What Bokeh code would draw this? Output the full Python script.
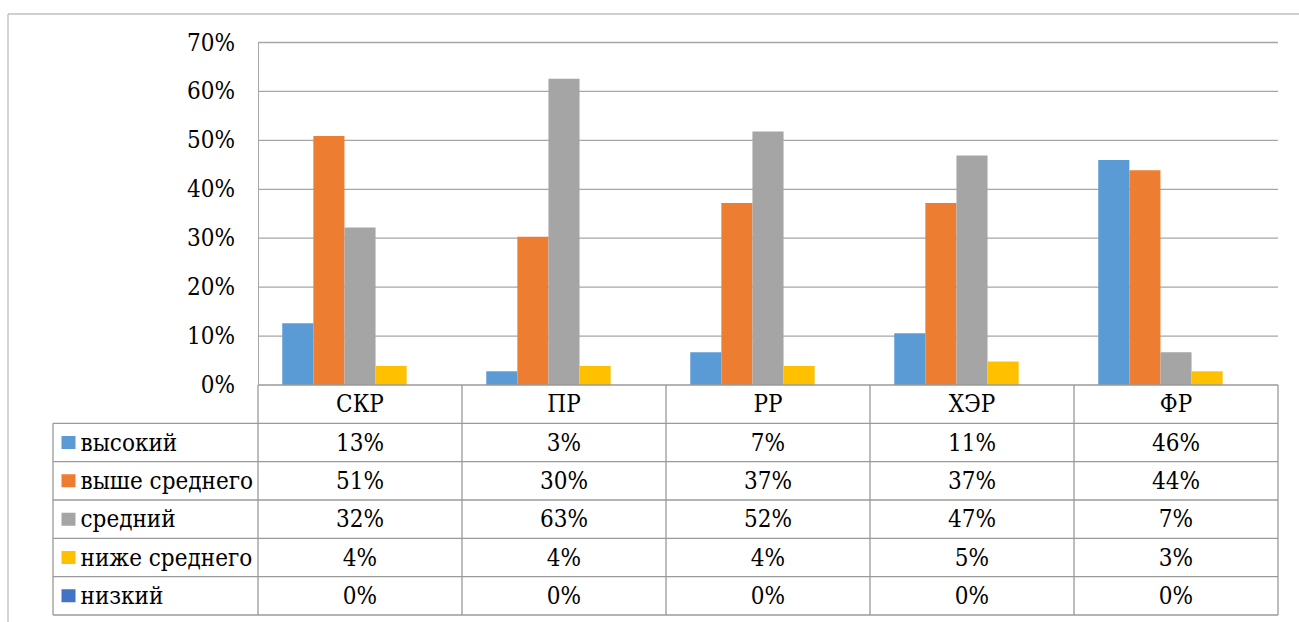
from bokeh.plotting import figure
from bokeh.models import ColumnDataSource, Range1d, FixedTicker, NumeralTickFormatter
from bokeh.transform import dodge
from bokeh.core.properties import value
from bokeh.embed import file_html
from bokeh.resources import INLINE

# ---------------- data ----------------
CATEGORIES = ["СКР", "ПР", "РР", "ХЭР", "ФР"]
SERIES = ["высокий", "выше среднего", "средний", "ниже среднего", "низкий"]
VYSOKIY = [0.126, 0.028, 0.067, 0.106, 0.460]
VYSHE_SREDNEGO = [0.509, 0.303, 0.372, 0.372, 0.439]
SREDNIY = [0.322, 0.626, 0.518, 0.469, 0.067]
NIZHE_SREDNEGO = [0.039, 0.039, 0.039, 0.048, 0.028]
NIZKIY = [0.0, 0.0, 0.0, 0.0, 0.0]
Y_TICKS = [0.0, 0.1, 0.2, 0.3, 0.4, 0.5, 0.6, 0.7]
COLORS = ["#5B9BD5", "#ED7D31", "#A5A5A5", "#FFC000", "#4472C4"]

SERIES_VALUES = [VYSOKIY, VYSHE_SREDNEGO, SREDNIY, NIZHE_SREDNEGO, NIZKIY]

# ---------------- layout (pixels) ----------------
W, H = 1299, 622
PLOT_LEFT = 257.5
COL_PX = 204.0
Y0_PX = 384.5
YTOP_PX = 42.0
PX_PER_UNIT = (Y0_PX - YTOP_PX) / 0.7
TABLE_BOTTOM_PX = 614.5
ROW_PX = (TABLE_BOTTOM_PX - Y0_PX) / 6
LEGEND_LEFT_PX = 52.5
BAR_PX = 31.1

def xd(px):
    return (px - PLOT_LEFT) / COL_PX

def yd(px):
    return (Y0_PX - px) / PX_PER_UNIT

FONT_NAME = "DejaVu Serif Condensed"
FONT = value(FONT_NAME)
FSIZE = "24px"
GRID_C = "#a6a6a6"
TABLE_C = "#9a9a9a"

p = figure(width=W, height=H, output_backend="svg", toolbar_location=None,
           x_range=Range1d(xd(0), xd(W)), y_range=Range1d(yd(H), yd(0)),
           x_axis_location=None, min_border=0)
p.outline_line_color = None
p.xgrid.visible = False
p.ygrid.visible = False

ax = p.yaxis[0]
ax.fixed_location = 0
ax.bounds = (0, 0.7)
ax.ticker = FixedTicker(ticks=Y_TICKS)
ax.formatter = NumeralTickFormatter(format="0%")
ax.major_tick_in = 0
ax.major_tick_out = 0
ax.minor_tick_in = 0
ax.minor_tick_out = 0
ax.major_label_standoff = 23
ax.axis_line_color = GRID_C
ax.major_label_text_font = FONT_NAME
ax.major_label_text_font_size = FSIZE
ax.major_label_text_color = "black"

ncat = len(CATEGORIES)

gy = [t for t in Y_TICKS if t > 0]
p.segment(x0=[0] * len(gy), x1=[ncat] * len(gy), y0=gy, y1=gy,
          line_color=GRID_C, line_width=1.3)

src = ColumnDataSource(dict(x=[i + 0.5 for i in range(ncat)],
                            **{f"s{k}": vals for k, vals in enumerate(SERIES_VALUES)}))
bw = BAR_PX / COL_PX
for k in range(len(SERIES)):
    p.vbar(x=dodge("x", (k - 2) * bw), top=f"s{k}", bottom=0, width=bw, source=src,
           fill_color=COLORS[k], line_color=None)

row_d = ROW_PX / PX_PER_UNIT
nrows = len(SERIES) + 1
row_lines = [-r * row_d for r in range(nrows + 1)]
leg_left = xd(LEGEND_LEFT_PX)

hx0 = [0] + [leg_left] * nrows
hx1 = [ncat] * (nrows + 1)
p.segment(x0=hx0, x1=hx1, y0=row_lines, y1=row_lines, line_color=TABLE_C, line_width=1.3)
vx = [leg_left] + list(range(ncat + 1))
vy0 = [row_lines[1]] + [0] * (ncat + 1)
vy1 = [row_lines[-1]] * (ncat + 2)
p.segment(x0=vx, x1=vx, y0=vy0, y1=vy1, line_color=TABLE_C, line_width=1.3)

p.text(x=[i + 0.5 for i in range(ncat)], y=[-0.5 * row_d] * ncat, text=CATEGORIES,
       text_align="center", text_baseline="middle", text_font=FONT,
       text_font_size=FSIZE, text_color="black")

for r, vals in enumerate(SERIES_VALUES, start=1):
    p.text(x=[i + 0.5 for i in range(ncat)], y=[-(r + 0.5) * row_d] * ncat,
           text=["{:.0%}".format(v) for v in vals],
           text_align="center", text_baseline="middle", text_font=FONT,
           text_font_size=FSIZE, text_color="black")

ly = [-(r + 0.5) * row_d for r in range(1, nrows)]
p.rect(x=[xd(68)] * len(SERIES), y=ly, width=14, height=13,
       width_units="screen", height_units="screen",
       fill_color=COLORS, line_color=None)
p.text(x=[xd(80)] * len(SERIES), y=ly, text=SERIES, text_align="left",
       text_baseline="middle", text_font=FONT, text_font_size=FSIZE, text_color="black")

bl, bt = xd(7.5), yd(13.5)
p.segment(x0=[bl, bl], x1=[xd(W), bl], y0=[bt, bt], y1=[bt, yd(H)],
          line_color="#bfbfbf", line_width=1.3)

open("out.html", "w").write(file_html(p, INLINE))
